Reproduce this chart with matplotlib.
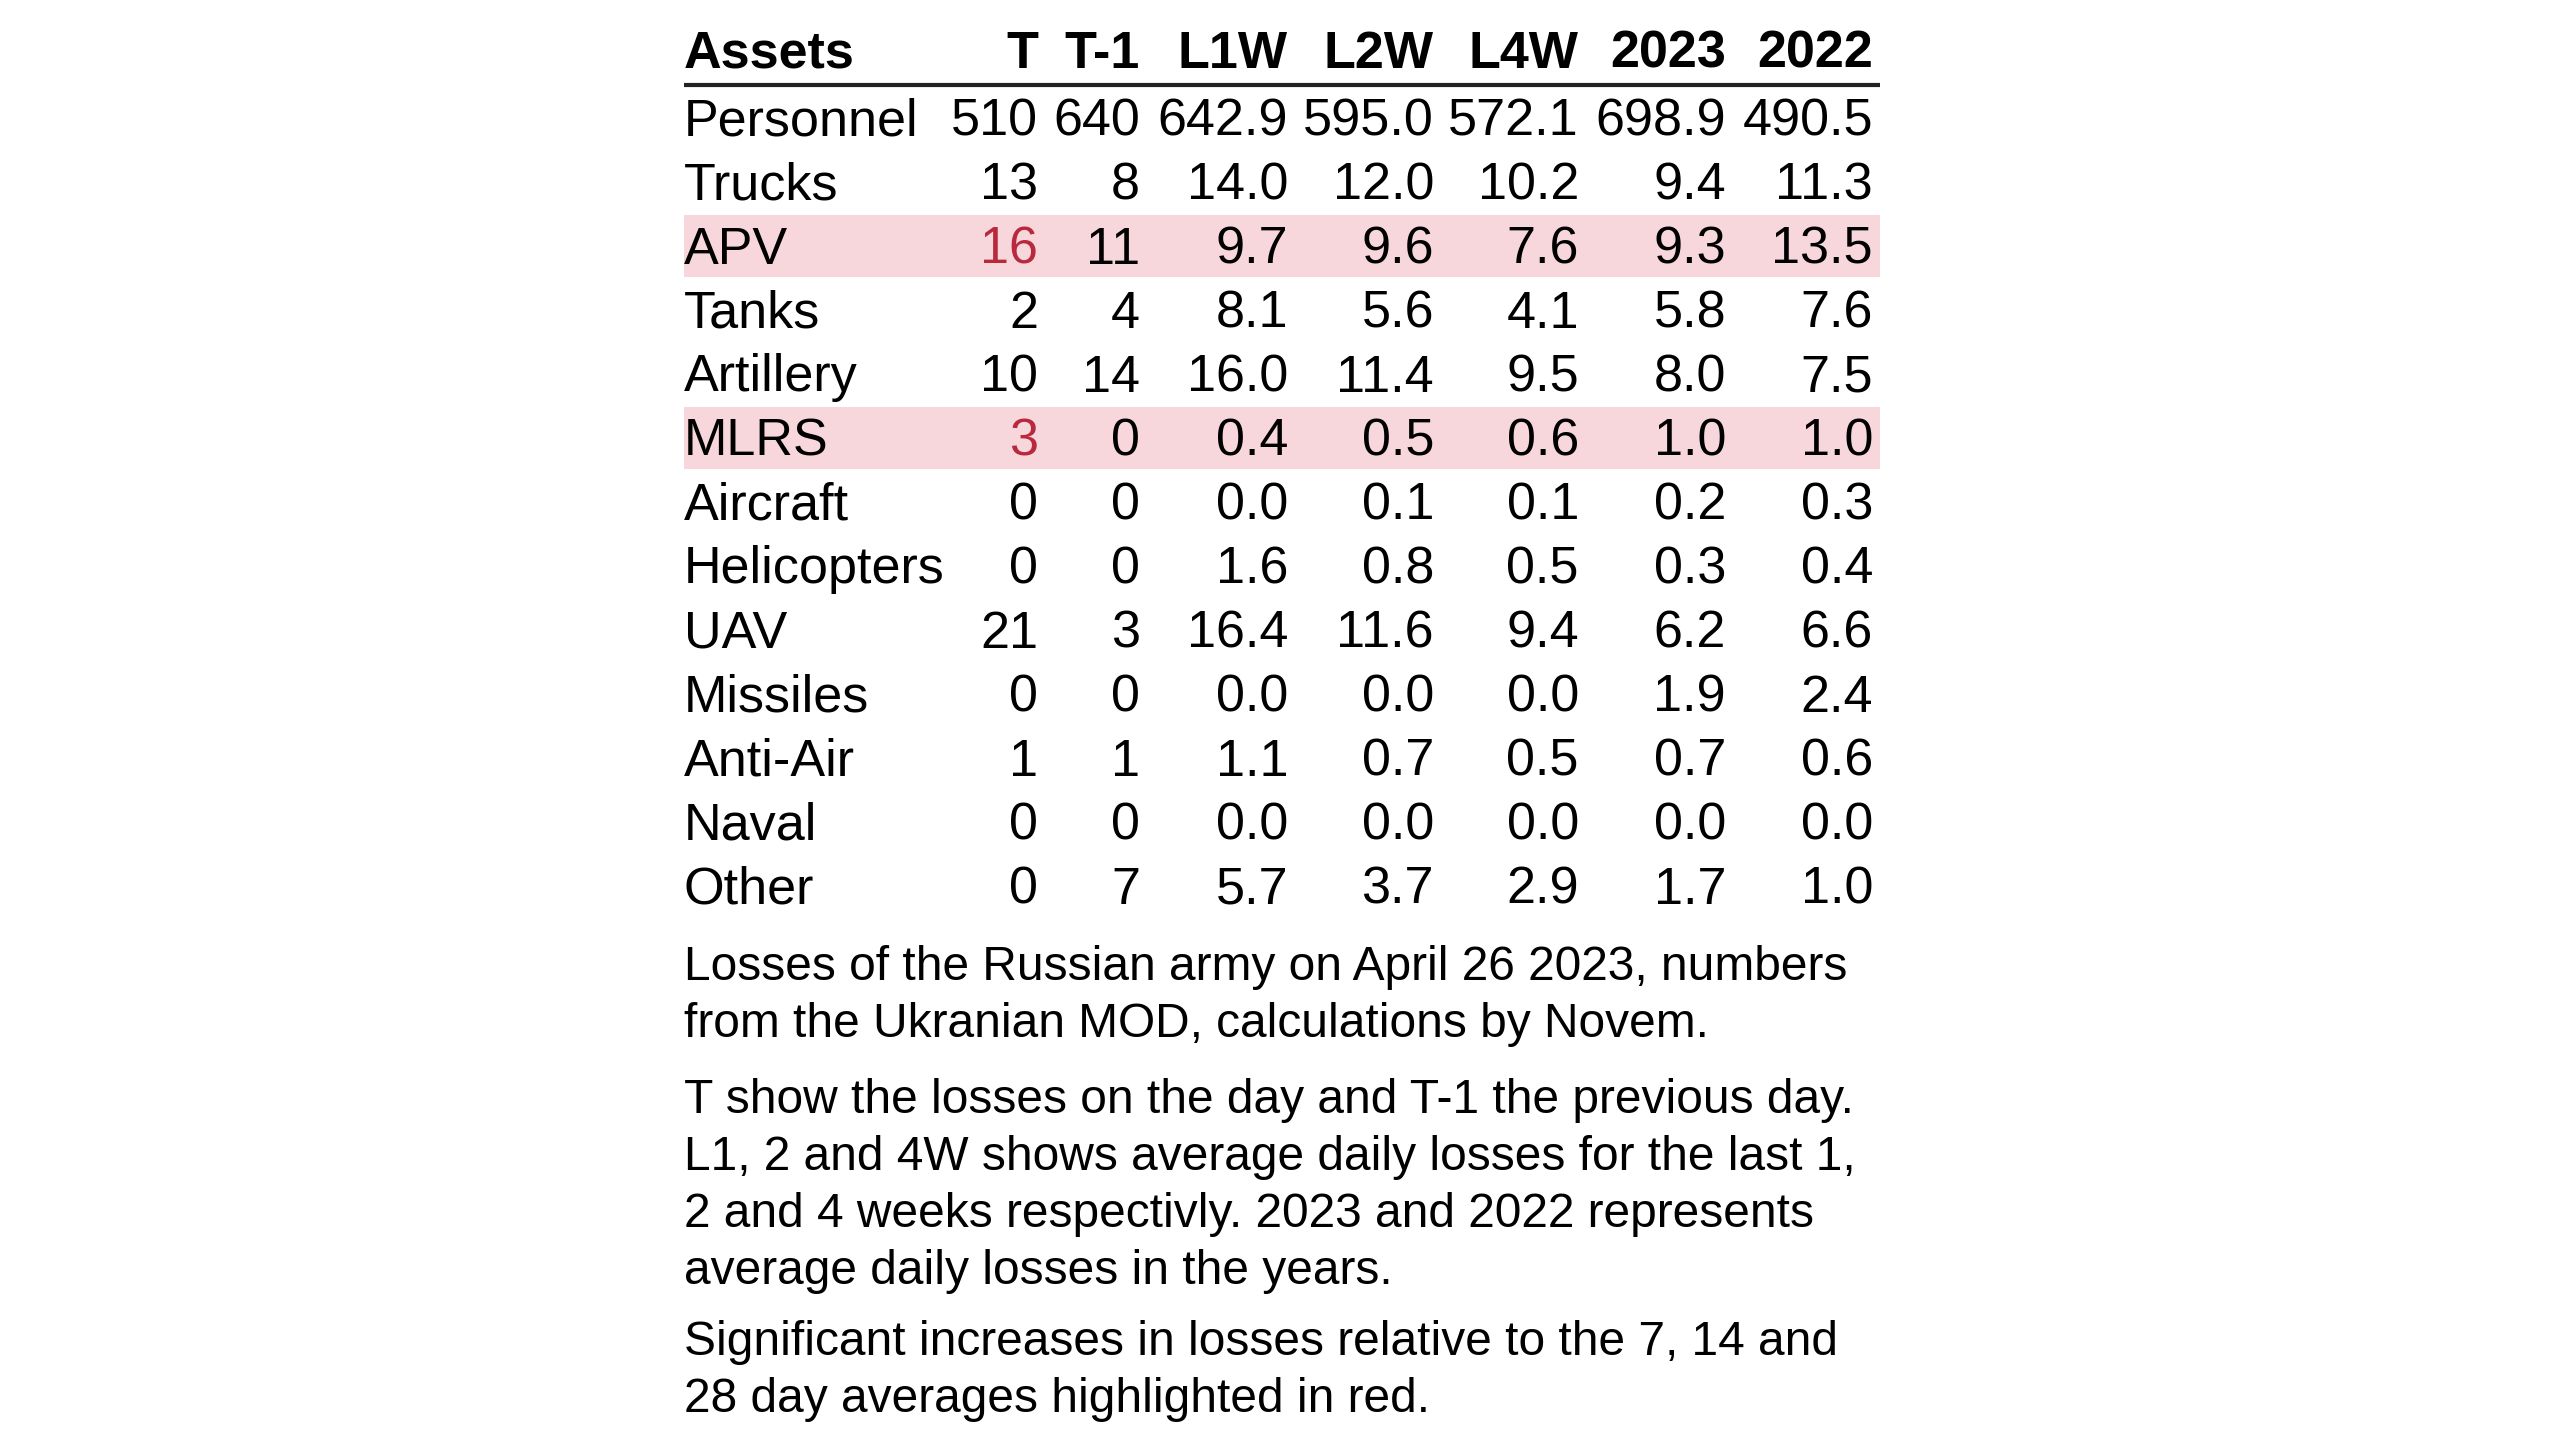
import matplotlib
matplotlib.use("Agg")
from matplotlib import pyplot as plt

# table data
columns = ["T", "T-1", "L1W", "L2W", "L4W", "2023", "2022"]
assets = ["Personnel", "Trucks", "APV", "Tanks", "Artillery", "MLRS", "Aircraft",
          "Helicopters", "UAV", "Missiles", "Anti-Air", "Naval", "Other"]
t_day = [510, 13, 16, 2, 10, 3, 0, 0, 21, 0, 1, 0, 0]
t_prev = [640, 8, 11, 4, 14, 0, 0, 0, 3, 0, 1, 0, 7]
l1w = [642.9, 14.0, 9.7, 8.1, 16.0, 0.4, 0.0, 1.6, 16.4, 0.0, 1.1, 0.0, 5.7]
l2w = [595.0, 12.0, 9.6, 5.6, 11.4, 0.5, 0.1, 0.8, 11.6, 0.0, 0.7, 0.0, 3.7]
l4w = [572.1, 10.2, 7.6, 4.1, 9.5, 0.6, 0.1, 0.5, 9.4, 0.0, 0.5, 0.0, 2.9]
y2023 = [698.9, 9.4, 9.3, 5.8, 8.0, 1.0, 0.2, 0.3, 6.2, 1.9, 0.7, 0.0, 1.7]
y2022 = [490.5, 11.3, 13.5, 7.6, 7.5, 1.0, 0.3, 0.4, 6.6, 2.4, 0.6, 0.0, 1.0]
highlighted = ["APV", "MLRS"]  # rows where T is flagged red

notes = [
    "Losses of the Russian army on April 26 2023, numbers\nfrom the Ukranian MOD, calculations by Novem.",
    "T show the losses on the day and T-1 the previous day.\nL1, 2 and 4W shows average daily losses for the last 1,\n2 and 4 weeks respectivly. 2023 and 2022 represents\naverage daily losses in the years.",
    "Significant increases in losses relative to the 7, 14 and\n28 day averages highlighted in red.",
]

plt.rcParams['font.family'] = ['Liberation Sans', 'DejaVu Sans']

fig = plt.figure(figsize=(25.6, 14.4), dpi=100)
ax = fig.add_axes([0, 0, 1, 1])
ax.set_xlim(0, 2560)
ax.set_ylim(1440, 0)
ax.axis('off')

left = 684
right = 1880
col_right = [1038, 1140, 1288, 1434, 1579, 1726, 1873]
row0 = 122
row_h = 64
fs = 37.5

# header
ax.text(left, 54, "Assets", fontsize=fs, fontweight='bold', ha='left', va='center')
for c, x in zip(columns, col_right):
    ax.text(x, 54, c, fontsize=fs, fontweight='bold', ha='right', va='center')
ax.plot([left, right], [85, 85], color='#222222', lw=3, solid_capstyle='butt')

cols = [t_day, t_prev, l1w, l2w, l4w, y2023, y2022]
for i, name in enumerate(assets):
    y = row0 + i * row_h
    if name in highlighted:
        yc = 118 + i * row_h
        ax.axhspan(yc - row_h / 2 + 1, yc + row_h / 2 - 1, xmin=left / 2560, xmax=right / 2560,
                   color='#f7d7dc', lw=0, zorder=0)
    ax.text(left, y, name, fontsize=fs, ha='left', va='center')
    for j, vals in enumerate(cols):
        v = vals[i]
        s = str(v) if j < 2 else "%.1f" % v
        color = '#b8293d' if (j == 0 and name in highlighted) else 'black'
        ax.text(col_right[j], y, s, fontsize=fs, ha='right', va='center', color=color)

# footnotes
for txt, y in zip(notes, [945, 1078, 1320]):
    ax.text(left, y, txt, fontsize=34.5, ha='left', va='top', linespacing=1.34)

fig.savefig('out.png', dpi=100, facecolor='white')
